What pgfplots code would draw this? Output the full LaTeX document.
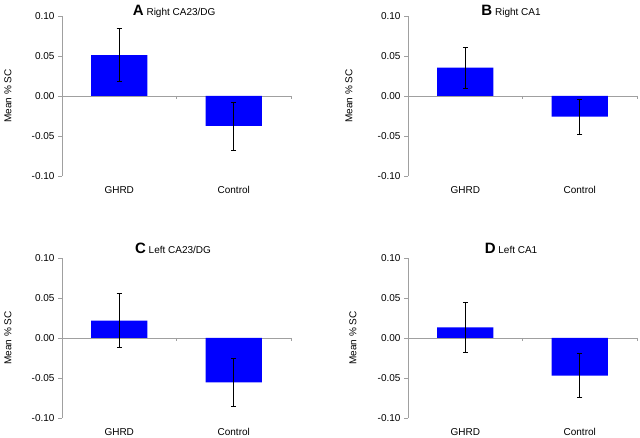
\documentclass[border=0pt]{standalone}
\usepackage{pgfplots}
\pgfplotsset{compat=1.18}
\usepackage{fontspec}
\setmainfont{Liberation Sans}

\definecolor{axgray}{RGB}{160,160,160}
\definecolor{barblue}{RGB}{0,0,255}

\pgfplotsset{panel/.style={
  scale only axis, width=229pt, height=160pt, anchor=south west,
  xmin=0, xmax=2, ymin=-0.1, ymax=0.1,
  axis x line*=bottom, axis y line*=left,
  x axis line style={draw=none}, y axis line style={axgray, line width=0.8pt, -},
  xtick={0.5,1.5}, xticklabels={GHRD,Control}, xtick style={draw=none},
  xticklabel style={yshift=-3pt},
  ytick={-0.1,-0.05,0,0.05,0.1}, yticklabels={-0.10,-0.05,0.00,0.05,0.10},
  ytick style={axgray, line width=0.8pt}, tick align=outside, major tick length=4pt,
  extra y ticks={0}, extra y tick labels={},
  extra y tick style={grid=major, major grid style={axgray, line width=0.8pt}},
  tick label style={font=\fontsize{10}{12}\selectfont},
  label style={font=\fontsize{10}{12}\selectfont},
  ylabel={Mean \% SC},
  clip=false,
},
bars/.style={ybar, bar width=0.49, fill=barblue, draw=none,
  error bars/.cd, y dir=both, y explicit,
  error bar style={black, line width=0.7pt},
  error mark options={black, line width=0.7pt, mark size=2.5pt, rotate=90}}}

% panel letter plus region name above an axis
\newcommand{\paneltitle}[4]{\node[anchor=base] at (axis description cs:#1,#2)
  {{\fontsize{15}{16}\selectfont\bfseries #3} {\fontsize{10}{12}\selectfont #4}};}
\newcommand{\zeroticks}{\draw[axgray, line width=0.8pt] (axis cs:1,0) -- ++(0pt,-3pt) (axis cs:2,0) -- ++(0pt,-3pt);}

\begin{document}
\begin{tikzpicture}
\path[use as bounding box] (0pt,0pt) rectangle (640pt,438pt);

% A
\begin{axis}[panel, at={(62pt,262pt)}, ylabel style={at={(axis description cs:-0.236,0.5)}, anchor=center}]
\addplot[bars] coordinates {(0.5,0.051) +- (0,0.033) (1.5,-0.0375) +- (0,0.030)};
\zeroticks
\paneltitle{0.49}{1.005}{A}{Right CA23/DG}
\end{axis}

% B
\begin{axis}[panel, at={(408pt,262pt)}, ylabel style={at={(axis description cs:-0.258,0.5)}, anchor=center}]
\addplot[bars] coordinates {(0.5,0.0354) +- (0,0.0256) (1.5,-0.0258) +- (0,0.022)};
\zeroticks
\paneltitle{0.45}{1.005}{B}{Right CA1}
\end{axis}

% C
\begin{axis}[panel, at={(62pt,20pt)}, ylabel style={at={(axis description cs:-0.236,0.5)}, anchor=center}]
\addplot[bars] coordinates {(0.5,0.0218) +- (0,0.034) (1.5,-0.0555) +- (0,0.030)};
\zeroticks
\paneltitle{0.485}{1.03}{C}{Left CA23/DG}
\end{axis}

% D
\begin{axis}[panel, at={(408pt,20pt)}, ylabel style={at={(axis description cs:-0.24,0.5)}, anchor=center}]
\addplot[bars] coordinates {(0.5,0.0134) +- (0,0.031) (1.5,-0.047) +- (0,0.0275)};
\zeroticks
\paneltitle{0.45}{1.03}{D}{Left CA1}
\end{axis}
\end{tikzpicture}
\end{document}
